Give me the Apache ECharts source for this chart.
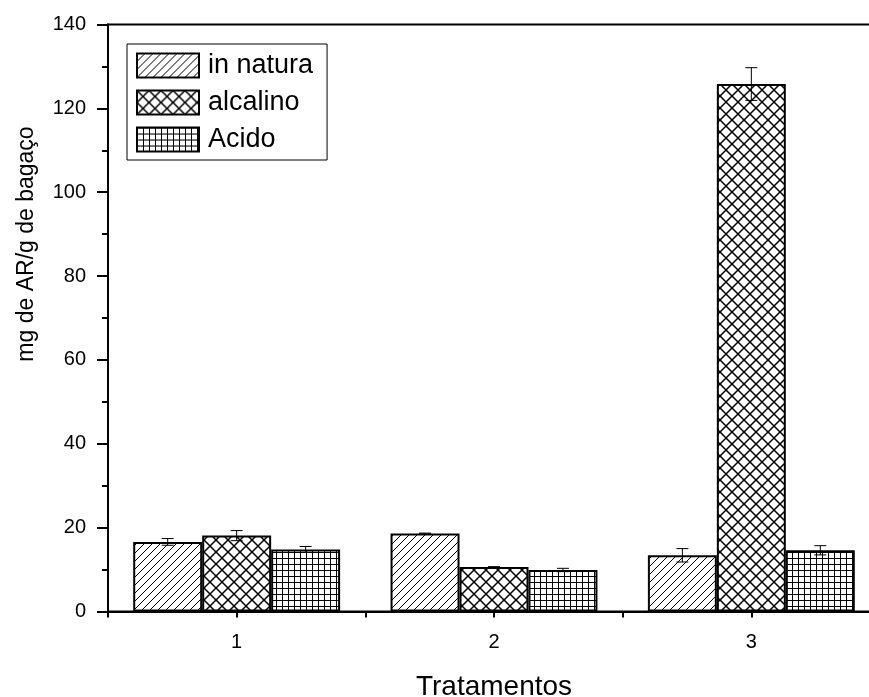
<!DOCTYPE html>
<html>
<head>
<meta charset="utf-8">
<script src="https://cdn.jsdelivr.net/npm/echarts@6/dist/echarts.min.js"></script>
<style>html,body{margin:0;padding:0;background:#fff;overflow:hidden;width:869px;height:697px}#c{width:869px;height:697px}</style>
</head>
<body>
<div id="c"></div>
<script>
const categories = ['1', '2', '3'];
const seriesNames = ['in natura', 'alcalino', 'Acido'];
const inNatura = [16.6, 18.6, 13.4];
const alcalino = [18.1, 10.6, 125.8];
const acido = [14.8, 9.9, 14.6];
const errInNatura = [0.8, 0.1, 1.6];
const errAlcalino = [1.2, 0.1, 3.9];
const errAcido = [0.7, 0.4, 1.1];
const yTicks = [0, 20, 40, 60, 80, 100, 120, 140];

function makePattern(type) {
  const s = type === 'diag' ? 8 : (type === 'cross' ? 12 : 6);
  const c = document.createElement('canvas');
  c.width = s; c.height = s;
  const g = c.getContext('2d');
  g.fillStyle = '#fff'; g.fillRect(0, 0, s, s);
  g.strokeStyle = '#000';
  if (type === 'diag') {
    g.lineWidth = 1;
    g.beginPath();
    g.moveTo(-1, s + 1); g.lineTo(s + 1, -1);
    g.moveTo(-1, 1); g.lineTo(1, -1);
    g.moveTo(s - 1, s + 1); g.lineTo(s + 1, s - 1);
    g.stroke();
  } else if (type === 'cross') {
    g.lineWidth = 1.5;
    g.beginPath();
    g.moveTo(0, 0); g.lineTo(s, s);
    g.moveTo(0, s); g.lineTo(s, 0);
    g.stroke();
  } else {
    g.lineWidth = 1;
    g.beginPath();
    g.moveTo(0.5, 0); g.lineTo(0.5, s);
    g.moveTo(0, 0.5); g.lineTo(s, 0.5);
    g.stroke();
  }
  return { image: c, repeat: 'repeat' };
}

const patterns = [makePattern('diag'), makePattern('cross'), makePattern('grid')];
const values = [inNatura, alcalino, acido];
const errors = [errInNatura, errAlcalino, errAcido];
const BAR_FRAC = 0.268;

const chart = echarts.init(document.getElementById('c'));
const font = 'Liberation Sans, Arial, sans-serif';

const series = [];
values.forEach((v, k) => {
  series.push({
    name: seriesNames[k],
    type: 'bar',
    data: v,
    barWidth: (BAR_FRAC * 100) + '%',
    barGap: '0%',
    itemStyle: { color: patterns[k], borderColor: '#000', borderWidth: 2 },
    emphasis: { disabled: true },
    z: 2
  });
});
values.forEach((v, k) => {
  series.push({
    type: 'custom',
    data: v.map((val, i) => [i, val, errors[k][i]]),
    z: 5,
    silent: true,
    renderItem: function (params, api) {
      const idx = api.value(0), val = api.value(1), err = api.value(2);
      const band = api.size([1, 0])[0];
      const off = (k - 1) * band * BAR_FRAC;
      const top = api.coord([idx, val + err]);
      const bot = api.coord([idx, val - err]);
      const x = top[0] + off;
      const cap = 6;
      const st = { stroke: '#000', lineWidth: 1 };
      return {
        type: 'group',
        children: [
          { type: 'line', shape: { x1: x, y1: top[1], x2: x, y2: bot[1] }, style: st },
          { type: 'line', shape: { x1: x - cap, y1: top[1], x2: x + cap, y2: top[1] }, style: st },
          { type: 'line', shape: { x1: x - cap, y1: bot[1], x2: x + cap, y2: bot[1] }, style: st }
        ]
      };
    }
  });
});

chart.setOption({
  animation: false,
  backgroundColor: '#fff',
  grid: { left: 108, top: 24.5, bottom: 85.5, width: 772, outerBoundsMode: 'none', containLabel: false, show: true, borderColor: '#000', borderWidth: 2, backgroundColor: 'transparent' },
  legend: {
    data: seriesNames,
    orient: 'vertical',
    left: 127, top: 44,
    icon: 'rect',
    itemWidth: 62, itemHeight: 24, itemGap: 10,
    padding: [8, 14, 7, 9],
    borderColor: '#000', borderWidth: 1,
    backgroundColor: '#fff',
    selectedMode: false,
    textStyle: { fontSize: 27, color: '#000', fontFamily: font, padding: [0, 0, 0, 4] }
  },
  xAxis: [
    {
      type: 'category',
      data: categories,
      name: 'Tratamentos',
      nameLocation: 'middle',
      nameGap: 62,
      nameTextStyle: { fontSize: 28, color: '#000', fontFamily: font },
      axisLine: { lineStyle: { color: '#000', width: 2 } },
      axisTick: { alignWithLabel: true, length: 12, lineStyle: { color: '#000', width: 2 } },
      axisLabel: { fontSize: 20, color: '#000', fontFamily: font, margin: 21 },
      splitLine: { show: false }
    },
    {
      type: 'value',
      min: 0.5, max: 3.5, interval: 0.5,
      position: 'bottom',
      axisLine: { show: false },
      axisTick: { length: 6, lineStyle: { color: '#000', width: 2 } },
      axisLabel: { show: false },
      splitLine: { show: false }
    }
  ],
  yAxis: {
    type: 'value',
    min: yTicks[0], max: yTicks[yTicks.length - 1], interval: yTicks[1] - yTicks[0],
    name: 'mg de AR/g de bagaço',
    nameLocation: 'middle',
    nameGap: 70,
    nameTextStyle: { fontSize: 23, color: '#000', fontFamily: font, padding: [0, 0, 0, 148] },
    axisLine: { show: true, lineStyle: { color: '#000', width: 2 } },
    axisTick: { show: true, length: 11, lineStyle: { color: '#000', width: 2 } },
    minorTick: { show: true, splitNumber: 2, length: 6, lineStyle: { color: '#000', width: 2 } },
    axisLabel: { fontSize: 20, color: '#000', fontFamily: font, margin: 22 },
    splitLine: { show: false }
  },
  series: series
});
</script>
</body>
</html>
